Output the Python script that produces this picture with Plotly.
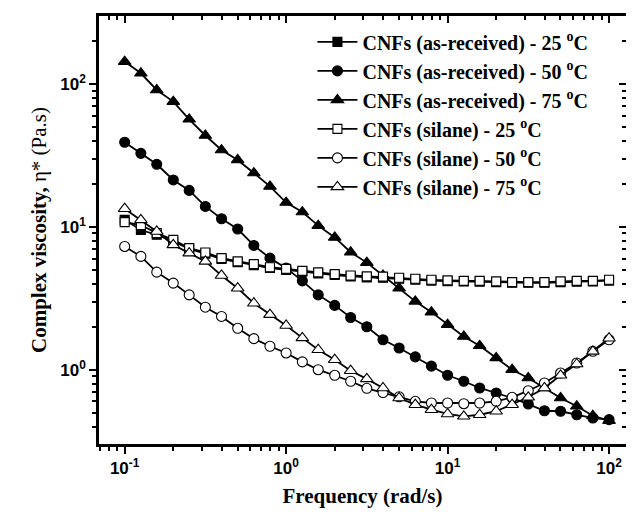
import plotly.graph_objects as go

freq = [0.1, 0.126, 0.158, 0.2, 0.251, 0.316, 0.398, 0.501, 0.631, 0.794,
        1.0, 1.26, 1.58, 2.0, 2.51, 3.16, 3.98, 5.01, 6.31, 7.94,
        10.0, 12.6, 15.8, 20.0, 25.1, 31.6, 39.8, 50.1, 63.1, 79.4, 100.0]

as_25 = [11.2, 9.5, 8.8, 7.9, 7.0, 6.5, 5.95, 5.65, 5.4, 5.15,
         5.0, 4.85, 4.72, 4.6, 4.5, 4.43, 4.4, 4.33, 4.27, 4.2,
         4.17, 4.14, 4.13, 4.1, 4.06, 4.06, 4.06, 4.1, 4.13, 4.14, 4.2]
as_50 = [39.1, 32.7, 27.4, 21.3, 18.0, 13.9, 11.4, 9.66, 7.41, 6.04,
         5.14, 4.19, 3.34, 2.82, 2.32, 2.0, 1.62, 1.42, 1.23, 1.06,
         0.914, 0.83, 0.745, 0.687, 0.634, 0.575, 0.516, 0.512, 0.484, 0.459, 0.447]
as_75 = [143.5, 118.9, 90.8, 75.3, 56.6, 43.6, 34.5, 29.4, 23.8, 19.2,
         14.8, 12.7, 10.2, 8.43, 6.64, 5.62, 4.57, 3.72, 3.01, 2.53,
         2.07, 1.71, 1.47, 1.21, 1.0, 0.875, 0.745, 0.634, 0.555, 0.476, 0.44]
si_25 = [10.8, 10.3, 9.04, 8.11, 7.10, 6.62, 6.04, 5.73, 5.48, 5.22,
         5.08, 4.92, 4.80, 4.67, 4.57, 4.50, 4.48, 4.40, 4.33, 4.26,
         4.22, 4.19, 4.19, 4.15, 4.10, 4.10, 4.10, 4.15, 4.19, 4.19, 4.26]
si_50 = [7.29, 6.21, 4.82, 4.04, 3.34, 2.74, 2.36, 1.95, 1.65, 1.46,
         1.31, 1.135, 1.0, 0.914, 0.83, 0.741, 0.692, 0.646, 0.601, 0.585,
         0.585, 0.578, 0.585, 0.601, 0.641, 0.713, 0.807, 0.948, 1.114, 1.346, 1.62]
si_75 = [13.4, 11.2, 9.29, 7.48, 6.55, 5.73, 4.57, 3.72, 2.92, 2.43,
         2.04, 1.67, 1.38, 1.175, 0.984, 0.863, 0.745, 0.634, 0.569, 0.525,
         0.49, 0.472, 0.484, 0.512, 0.569, 0.641, 0.745, 0.914, 1.096, 1.343, 1.66]

names = ["<b>CNFs (as-received) - 25 <sup>o</sup>C</b>",
         "<b>CNFs (as-received) - 50 <sup>o</sup>C</b>",
         "<b>CNFs (as-received) - 75 <sup>o</sup>C</b>",
         "<b>CNFs (silane) - 25 <sup>o</sup>C</b>",
         "<b>CNFs (silane) - 50 <sup>o</sup>C</b>",
         "<b>CNFs (silane) - 75 <sup>o</sup>C</b>"]

major_vals = [0.1, 1, 10, 100]
major_text = ["10<sup>-1</sup>", "10<sup>0</sup>", "10<sup>1</sup>", "10<sup>2</sup>"]
minor_vals = [m * d for d in [0.01, 0.1, 1, 10, 100] for m in range(2, 10)]

series = [
    (as_25, "square", "black", 9),
    (as_50, "circle", "black", 10),
    (as_75, "triangle-up", "black", 11),
    (si_25, "square", "white", 9),
    (si_50, "circle", "white", 10),
    (si_75, "triangle-up", "white", 11),
]

fig = go.Figure()
for i in range(6):
    ys, sym, fill, sz = series[i]
    fig.add_trace(go.Scatter(
        x=freq, y=ys, mode="lines+markers", name=names[i],
        line=dict(color="black", width=1.8),
        marker=dict(symbol=sym, color=fill, size=sz,
                    line=dict(color="black", width=1.1)),
    ))

# dummy trace for mirrored axes
fig.add_trace(go.Scatter(x=[None], y=[None], xaxis="x2", yaxis="y2",
                         showlegend=False, hoverinfo="skip"))

xr = [-1.159, 2.105]
yr = [-0.52, 2.476]
tickfont = dict(family="Liberation Sans, Arial", size=17, color="black", weight="bold")

fig.update_layout(
    width=634, height=515,
    margin=dict(l=91, r=16, t=8, b=79),
    paper_bgcolor="white", plot_bgcolor="white",
    xaxis=dict(type="log", range=xr, tickmode="array", tickvals=major_vals,
               ticktext=major_text, ticks="outside", ticklen=7, tickwidth=1.5,
               tickcolor="black", showline=True, linecolor="black", linewidth=2.5,
               showgrid=False, zeroline=False, tickfont=tickfont,
               minor=dict(tickmode="array", tickvals=minor_vals, ticks="outside",
                          ticklen=4, tickwidth=1.5, tickcolor="black", showgrid=False),
               title=dict(text="<b>Frequency (rad/s)</b>",
                          font=dict(family="Liberation Serif, Times New Roman", size=21, color="black"),
                          standoff=12)),
    yaxis=dict(type="log", range=yr, tickmode="array", tickvals=major_vals,
               ticktext=major_text, ticks="outside", ticklen=7, tickwidth=1.5,
               tickcolor="black", showline=True, linecolor="black", linewidth=2.5,
               showgrid=False, zeroline=False, tickfont=tickfont,
               minor=dict(tickmode="array", tickvals=minor_vals, ticks="outside",
                          ticklen=4, tickwidth=1.5, tickcolor="black", showgrid=False),
               title=dict(text="<b>Complex viscosity,</b> η* (Pa.s)",
                          font=dict(family="Liberation Serif, Times New Roman", size=21, color="black"),
                          standoff=8)),
    xaxis2=dict(type="log", range=xr, overlaying="x", side="top", anchor="y2",
                tickmode="array", tickvals=major_vals, showticklabels=False,
                ticks="inside", ticklen=7, tickwidth=1.5, tickcolor="black",
                showline=True, linecolor="black", linewidth=2.5, showgrid=False,
                zeroline=False,
                minor=dict(tickmode="array", tickvals=minor_vals, ticks="inside",
                           ticklen=4, tickwidth=1.5, tickcolor="black", showgrid=False)),
    yaxis2=dict(type="log", range=yr, overlaying="y", side="right", anchor="x2",
                tickmode="array", tickvals=major_vals, showticklabels=False,
                ticks="inside", ticklen=7, tickwidth=1.5, tickcolor="black",
                showline=True, linecolor="black", linewidth=2.5, showgrid=False,
                zeroline=False,
                minor=dict(tickmode="array", tickvals=minor_vals, ticks="inside",
                           ticklen=4, tickwidth=1.5, tickcolor="black", showgrid=False)),
    legend=dict(x=0.405, y=0.985, xanchor="left", yanchor="top",
                bgcolor="rgba(255,255,255,0)", borderwidth=0,
                font=dict(family="Liberation Serif, Times New Roman", size=20, color="black"),
                tracegroupgap=0, itemwidth=40),
    showlegend=True,
)

fig.write_html("out.html")
